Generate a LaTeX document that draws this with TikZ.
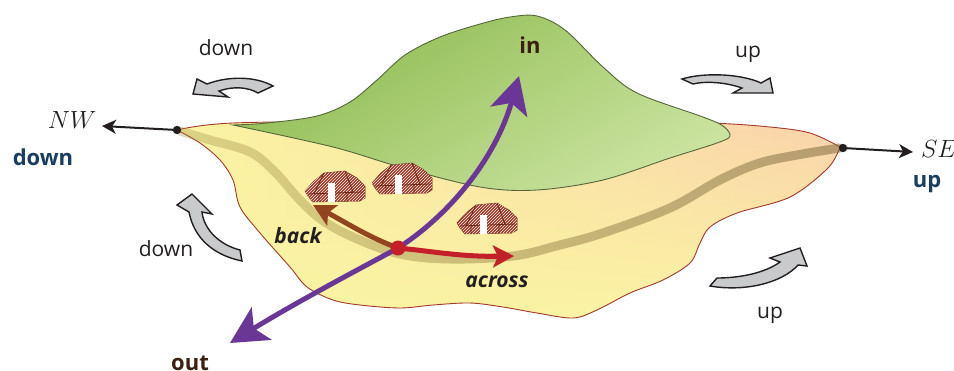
\documentclass[tikz,border=0pt]{standalone}
\usepackage{fontspec}
\setmainfont{Open Sans}
\usetikzlibrary{arrows.meta,patterns,fadings}
\definecolor{txtgray}{HTML}{231F20}
\definecolor{navy}{HTML}{1B3D62}
\definecolor{darkbrown}{HTML}{3B1F10}
\definecolor{landyellow}{HTML}{FAF4A3}
\definecolor{landpeach}{HTML}{FBD2AC}
\definecolor{landline}{HTML}{A33A2C}
\definecolor{hilldark}{HTML}{8EBB50}
\definecolor{hilllight}{HTML}{CAE39F}
\definecolor{hillline}{HTML}{56663A}
\definecolor{roadcol}{HTML}{9A8A3A}
\definecolor{roaddark}{HTML}{6E5A44}
\definecolor{purp}{HTML}{6A3797}
\definecolor{redarr}{HTML}{C4202A}
\definecolor{brownarr}{HTML}{94431F}
\definecolor{grayarr}{HTML}{C8CACC}
\definecolor{hutbrown}{HTML}{9C3A26}
\definecolor{hutdark}{HTML}{6E2414}
\tikzfading[name=upfade, top color=transparent!100, middle color=transparent!60, bottom color=transparent!0]
\tikzfading[name=rightfade, left color=transparent!100, middle color=transparent!75, right color=transparent!0]
\tikzset{
  lbl/.style={text=txtgray, font=\fontsize{21}{24}\selectfont},
  bluelbl/.style={text=navy, font=\fontsize{22}{25}\selectfont\bfseries},
  brownlbl/.style={text=darkbrown, font=\fontsize{22}{25}\selectfont\bfseries},
  itlbl/.style={text=txtgray, font=\fontsize{21}{24}\selectfont\bfseries\itshape},
  dirlbl/.style={text=txtgray, font=\fontsize{24}{28}\selectfont},
  grayarrow/.style={fill=grayarr, draw=txtgray, line width=1.4pt, line join=miter},
  compass/.style={draw=txtgray, line width=2pt, -{Stealth[length=14pt,width=14pt,inset=4pt]}},
  hut/.pic={
    \path[fill=hutbrown, draw=hutdark, line width=0.5pt]
      (0,21) -- (9,11) -- (19,3) -- (40,1) -- (52,8) -- (60,16) -- (60,28) -- (55,31) -- (8,32) -- (3,26) -- cycle;
    \path[pattern=north east lines, pattern color=white!90!hutbrown]
      (0,21) -- (9,11) -- (19,3) -- (40,1) -- (52,8) -- (60,16) -- (60,28) -- (55,31) -- (8,32) -- (3,26) -- cycle;
    \draw[hutdark, line width=0.8pt] (19,3) -- (9,24) (40,1) -- (48,22) (3,24) -- (58,22) (14,24) -- (14,31) (42,23) -- (42,31);
    \fill[white] (23,13) rectangle (30,32);
  }
}
\def\landpath{(177,130) -- plot[smooth, tension=0.55] coordinates {(177,130) (233,123) (400,121) (600,121) (710,123) (770,127) (810,133) (840,147)}
  -- plot[smooth, tension=0.55] coordinates {(840,147) (828,168) (790,197) (737,213) (710,227) (700,243) (690,263) (663,280) (630,293) (597,310) (573,318) (537,313) (503,307) (470,303) (433,305) (400,308) (360,305) (333,300) (307,287) (290,267) (260,233) (240,207) (233,180) (220,160) (200,143) (177,130)}
  -- cycle}
\def\roadpath{plot[smooth, tension=0.6] coordinates {(180,131) (210,140) (250,152) (275,172) (298,198) (322,220) (355,238) (400,254) (450,259) (513,256) (560,245) (603,233) (670,208) (720,180) (760,163) (803,154) (840,148)}}
\begin{document}
\begin{tikzpicture}[x=1pt,y=-1pt]
\useasboundingbox (0,0) rectangle (954,370);

% land
\shade[left color=landyellow, middle color=landyellow!65!landpeach, right color=landpeach] \landpath;
\fill[landyellow, path fading=upfade] \landpath;
\draw[landline, line width=0.9pt] \landpath;

% road
\draw[roadcol, opacity=0.3, line width=9pt, line cap=round] \roadpath;
\draw[roaddark, opacity=0.35, line width=9pt, line cap=round, path fading=rightfade] \roadpath;

% hill
\shadedraw[draw=hillline, line width=0.9pt, shading=axis, top color=hilldark, bottom color=hilllight, shading angle=30]
  (233,125) -- plot[smooth, tension=0.55] coordinates {(233,125) (267,123) (317,116) (350,102) (377,80) (405,55) (440,37) (480,24) (510,17) (537,16) (565,30) (603,67) (637,93) (703,117) (723,126) (730,136) (717,143) (670,158) (603,180) (537,190) (480,187) (400,167) (333,147) (233,125)} -- cycle;

% huts
\pic (hutA) at (305,170) {hut};
\pic (hutB) at (372,162) {hut};
\pic (hutC) at (457,202) {hut};

% named points
\coordinate (x) at (398,248);
\coordinate (outtip) at (230,343);
\coordinate (intip) at (519,76);
\coordinate (backtip) at (313,205);
\coordinate (acrosstip) at (514,256);
\coordinate (nwpt) at (177,130);
\coordinate (sept) at (843,148);
\coordinate (nwtip) at (102,126);
\coordinate (setip) at (913,152);

% purple in/out arrow
\draw[purp, line width=5pt, {Stealth[length=37pt,width=38pt,inset=9pt]}-{Stealth[length=37pt,width=38pt,inset=9pt]}]
  (outtip) .. controls (300,300) and (365,266) .. (x) .. controls (448,216) and (495,160) .. (intip);

% back and across
\draw[brownarr, line width=5pt, -{Stealth[length=22pt,width=23pt,inset=5pt]}]
  (x) .. controls (370,238) and (345,222) .. (backtip);
\draw[redarr, line width=5pt, -{Stealth[length=21pt,width=22pt,inset=5pt]}]
  (x) .. controls (430,251) and (462,257) .. (acrosstip);
\fill[redarr] (x) circle (7.5pt);

% compass arrows
\draw[compass] (nwpt) -- (nwtip);
\draw[compass] (sept) -- (setip);
\fill[txtgray] (nwpt) circle (4.2pt);
\fill[txtgray] (sept) circle (4.2pt);

% gray curved arrows
\path[grayarrow] (273,86) .. controls (255,76) and (228,76) .. (207,84) -- (197,79) -- (193,94) -- (228,97) -- (219,91) .. controls (233,86) and (248,87) .. (258,93) -- cycle;
\path[grayarrow] (682,79) .. controls (705,72) and (742,74) .. (761,83) -- (770,78) -- (773,93) -- (733,93) -- (742,88) .. controls (725,82) and (705,81) .. (693,84) -- cycle;
\path[grayarrow] (177,205) -- (192,194) -- (212,214) -- (202,212) .. controls (204,230) and (220,245) .. (240,250) -- (242,261) .. controls (213,255) and (194,238) .. (189,212) -- cycle;
\path[grayarrow] (710,286) .. controls (745,292) and (782,283) .. (798,265) -- (807,266) -- (800,248) -- (770,258) -- (780,262) .. controls (765,273) and (740,278) .. (717,278) -- cycle;

% labels
\node[lbl] (dTL) at (226,48) {down};
\node[lbl] (uTR) at (748,54) {up};
\node[lbl] (dBL) at (166,249) {down};
\node[lbl] (uBR) at (770,315) {up};
\node[dirlbl] (nwl) at (72,120) {$NW$};
\node[dirlbl] (sel) at (939,149) {$SE$};
\node[bluelbl] (nwd) at (43,157) {down};
\node[bluelbl] (seu) at (927,184) {up};
\node[brownlbl] (inl) at (530,45) {in};
\node[brownlbl] (outl) at (190,363) {out};
\node[itlbl] (backl) at (298,236) {back};
\node[itlbl] (acrossl) at (497,282) {across};
\end{tikzpicture}
\end{document}
